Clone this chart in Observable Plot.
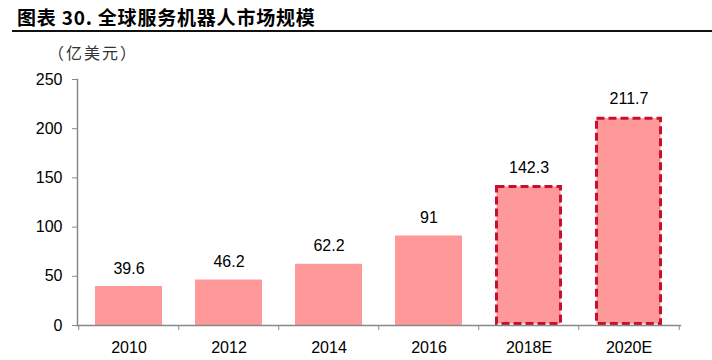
<!DOCTYPE html>
<html><head><meta charset="utf-8">
<script src="https://cdn.jsdelivr.net/npm/d3@7"></script>
<script src="https://cdn.jsdelivr.net/npm/@observablehq/plot@0.6"></script>
<style>
body{margin:0;background:#fff;width:712px;height:360px;overflow:hidden}
#title{position:absolute;left:17px;top:3px;font:bold 19px "Noto Sans CJK SC",sans-serif;color:#000;letter-spacing:0.8px}
#rule{position:absolute;left:12px;right:0;top:30px;height:2px;background:#111}
#unit{position:absolute;left:48px;top:40px;font:16px "Noto Sans CJK SC",sans-serif;color:#333;white-space:nowrap;letter-spacing:2px}
#chart{position:absolute;left:0;top:33px}
</style></head><body>
<div id="title">图表 30. 全球服务机器人市场规模</div>
<div id="rule"></div>
<div id="chart"></div>
<div id="unit"></div>
<script>
const years = ["2010","2012","2014","2016","2018E","2020E"];
const values = [39.6, 46.2, 62.2, 91, 142.3, 211.7];
const labels = ["39.6","46.2","62.2","91","142.3","211.7"];
const estimate = [false,false,false,false,true,true];
const yTicks = [0,50,100,150,200,250];
const unit = "（亿美元）";

document.getElementById("unit").textContent = unit;
const data = years.map((y,i)=>({year:y, value:values[i], label:labels[i], est:estimate[i]}));
const axisColor = "#888";
const numFont = "Liberation Sans, Arial, sans-serif";
const chart = Plot.plot({
  width: 712, height: 327,
  marginTop: 46, marginBottom: 35, marginLeft: 77, marginRight: 32,
  style: {fontFamily: numFont, color: "#000", background: "#fff"},
  x: {domain: years, paddingInner: 0.33, paddingOuter: 0.165, axis: null},
  y: {domain: [0, 250], axis: null},
  marks: [
    Plot.barY(data.filter(d=>!d.est), {x:"year", y:"value", fill:"#FF9999"}),
    Plot.barY(data.filter(d=>d.est), {x:"year", y:"value", fill:"#FF9999", stroke:"#C8102E", strokeWidth:3, strokeDasharray:"8,4", inset:1.5}),
    Plot.text(data, {x:"year", y:"value", text:"label", dy:-18, fontSize:16, fill:"#000"}),
    Plot.axisY({ticks: yTicks, tickSize: 5, tickPadding: 10, fontSize: 16, stroke: axisColor, label: null, tickFormat: d=>String(d)}),
    Plot.axisX({tickSize: 0, tickPadding: 16, fontSize: 16, label: null}),
    Plot.ruleX(years, {x: d=>d, y1: 0, y2: -5.1, dx: -50.25, stroke: axisColor}),
    Plot.ruleX([years[years.length-1]], {x: d=>d, y1: 0, y2: -5.1, dx: 50.25, stroke: axisColor}),
    Plot.frame({anchor: "left", stroke: axisColor, strokeWidth: 1.5}),
    Plot.frame({anchor: "bottom", stroke: axisColor, strokeWidth: 1.5})
  ]
});
document.getElementById("chart").appendChild(chart);
</script>
</body></html>
